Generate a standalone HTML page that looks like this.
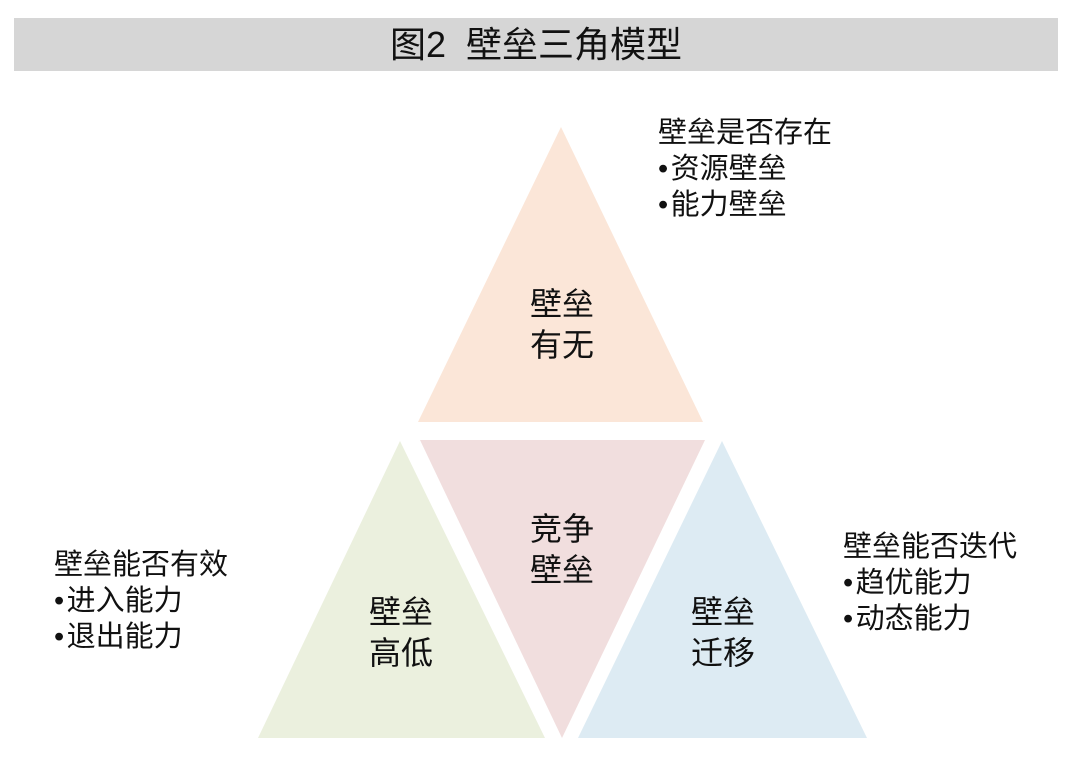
<!DOCTYPE html>
<html><head><meta charset="utf-8"><style>
html,body{margin:0;padding:0;background:#fff;}
body{width:1080px;height:758px;position:relative;overflow:hidden;font-family:"Liberation Sans","Noto Sans CJK SC",sans-serif;color:#111;}
.bar{position:absolute;left:14px;top:18px;width:1044px;height:53px;background:#d6d6d6;text-align:center;line-height:53px;font-size:36px;}
.t{position:absolute;font-size:32px;line-height:41px;text-align:center;width:140px;}
.n{position:absolute;font-size:29px;line-height:36px;white-space:nowrap;}
</style></head><body>
<div class="bar">图2&nbsp;&nbsp;壁垒三角模型</div>
<svg width="1080" height="758" style="position:absolute;left:0;top:0">
<polygon points="561,127 703,422 418,422" fill="#fbe6d8"/>
<polygon points="420,440 705,440 562,738" fill="#f1dede"/>
<polygon points="400,441 545,738 258,738" fill="#ebf0de"/>
<polygon points="722,441 867,738 578,738" fill="#ddebf3"/>
</svg>
<div class="t" style="left:492px;top:284px">壁垒<br>有无</div>
<div class="t" style="left:492px;top:509px">竞争<br>壁垒</div>
<div class="t" style="left:331px;top:592px">壁垒<br>高低</div>
<div class="t" style="left:653px;top:592px">壁垒<br>迁移</div>
<div class="n" style="left:658px;top:115px">壁垒是否存在<br>•&#8202;资源壁垒<br>•&#8202;能力壁垒</div>
<div class="n" style="left:54px;top:547px">壁垒能否有效<br>•&#8202;进入能力<br>•&#8202;退出能力</div>
<div class="n" style="left:843px;top:529px">壁垒能否迭代<br>•&#8202;趋优能力<br>•&#8202;动态能力</div>
</body></html>
